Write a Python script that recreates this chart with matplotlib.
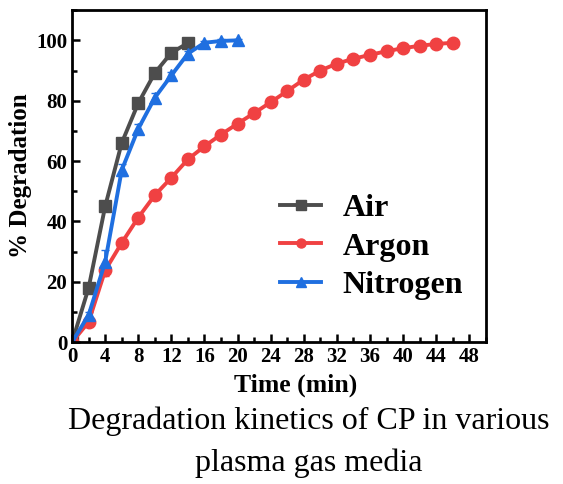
import matplotlib
matplotlib.use("Agg")
import matplotlib.pyplot as plt
from matplotlib.ticker import MultipleLocator
from matplotlib.lines import Line2D

plt.rcParams['font.family'] = ['Liberation Serif', 'DejaVu Serif']

air_t = [0, 2, 4, 6, 8, 10, 12, 14]
air_y = [0, 18, 45, 66, 79.2, 89.2, 95.9, 99.1]

argon_t = [0, 2, 4, 6, 8, 10, 12, 14, 16, 18, 20, 22, 24, 26, 28, 30, 32, 34, 36, 38, 40, 42, 44, 46]
argon_y = [0, 6.7, 23.8, 32.9, 41.3, 48.7, 54.5, 60.6, 64.9, 68.8, 72.4, 75.9, 79.5, 83.2,
           87, 90, 92.3, 93.9, 95.2, 96.4, 97.4, 98.2, 98.8, 99.2]

nitrogen_t = [0, 2, 4, 6, 8, 10, 12, 14, 16, 18, 20]
nitrogen_y = [0, 9, 26.6, 57, 70.7, 81, 88.4, 95.6, 99.2, 99.8, 100]
nitrogen_err = [0, 1, 4, 2, 1.5, 1.5, 1, 1, 0.5, 0.5, 0.5]
argon_err = [0, 1, 2] + [0.5] * 21

labels = ['Air', 'Argon', 'Nitrogen']
colors = ['#4d4d4d', '#f04142', '#1f6fe0']
markers = ['s', 'o', '^']

x_ticks = list(range(0, 49, 4))
y_ticks = [0, 20, 40, 60, 80, 100]

fig = plt.figure(figsize=(5.63, 4.84), dpi=100)
ax = fig.add_axes([0.128, 0.293, 0.735, 0.686])

ax.errorbar(air_t, air_y, color=colors[0], marker=markers[0], ms=8, lw=2.8)
ax.errorbar(argon_t, argon_y, yerr=argon_err, color=colors[1], marker=markers[1], ms=9, lw=2.8,
            capsize=3, elinewidth=1.2)
ax.errorbar(nitrogen_t, nitrogen_y, yerr=nitrogen_err, color=colors[2], marker=markers[2], ms=9, lw=2.8,
            capsize=3, elinewidth=1.2)

ax.set_xlim(0, 50)
ax.set_ylim(0, 110)
ax.set_xticks(x_ticks)
ax.set_yticks(y_ticks)
ax.xaxis.set_minor_locator(MultipleLocator(2))
ax.yaxis.set_minor_locator(MultipleLocator(10))
ax.tick_params(which='both', direction='in', top=False, right=False, width=1.8)
ax.tick_params(which='major', length=6, labelsize=15)
ax.tick_params(which='minor', length=3.5)
for lab in ax.get_xticklabels() + ax.get_yticklabels():
    lab.set_fontweight('bold')
for s in ax.spines.values():
    s.set_linewidth(2)

ax.set_xlabel('Time (min)', fontsize=18.5, fontweight='bold')
ax.xaxis.set_label_coords(0.541, -0.095)
ax.set_ylabel('% Degradation', fontsize=18, fontweight='bold', labelpad=3)

handles = [Line2D([], [], color=c, marker=m, ms=6.5, lw=2.8) for c, m in zip(colors, markers)]
ax.legend(handles, labels, loc='center left', bbox_to_anchor=(0.502, 0.287), frameon=False,
          prop={'size': 23, 'weight': 'bold'}, handlelength=1.3,
          labelspacing=0.28, handletextpad=0.66, borderpad=0, borderaxespad=0)

fig.text(0.548, 0.13, 'Degradation kinetics of CP in various', ha='center', va='center', fontsize=23)
fig.text(0.548, 0.043, 'plasma gas media', ha='center', va='center', fontsize=23)

fig.savefig('out.png', dpi=100)
